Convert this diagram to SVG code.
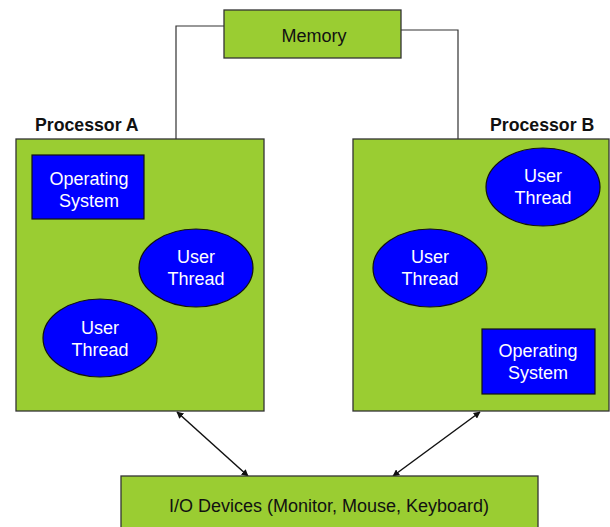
<svg xmlns="http://www.w3.org/2000/svg" width="610" height="527" viewBox="0 0 610 527">
<style>
.box{fill:#9acd32;stroke:#333;stroke-width:1.3}
.blue{fill:#0000ff;stroke:#111;stroke-width:1.2}
.wt{font-family:"Liberation Sans",Arial,sans-serif;font-size:18px;fill:#fff;text-anchor:middle}
.bt{font-family:"Liberation Sans",Arial,sans-serif;font-size:18px;fill:#111;text-anchor:middle}
.lbl{font-family:"Liberation Sans",Arial,sans-serif;font-size:17.7px;font-weight:bold;fill:#111}
.wire{fill:none;stroke:#333;stroke-width:1.2}
.arr{stroke:#111;stroke-width:1.5;marker-start:url(#ah);marker-end:url(#ah)}
</style>
<defs>
<marker id="ah" viewBox="0 0 10 10" refX="9" refY="5" markerWidth="7" markerHeight="7" orient="auto-start-reverse" markerUnits="userSpaceOnUse"><path d="M0,0 L10,5 L0,10 z" fill="#111"/></marker>
</defs>
<rect width="610" height="527" fill="#fff"/>
<g id="connectors">
<polyline class="wire" points="224,26 176,26 176,139"/>
<polyline class="wire" points="401,30 458,30 458,139"/>
<line class="arr" x1="177" y1="412" x2="248" y2="476"/>
<line class="arr" x1="480" y1="412" x2="393" y2="476"/>
</g>
<g id="memory">
<rect class="box" x="224" y="10" width="177" height="48"/>
<text class="bt" x="314" y="42">Memory</text>
</g>
<g id="processorA">
<text class="lbl" x="35" y="131">Processor A</text>
<rect class="box" x="16" y="139" width="248" height="272"/>
</g>
<g id="osA">
<rect class="blue" x="32" y="155" width="112" height="64"/>
<text class="wt" x="89" y="185">Operating</text>
<text class="wt" x="89" y="207">System</text>
</g>
<g id="threadA1">
<ellipse class="blue" cx="196" cy="268" rx="57" ry="39"/>
<text class="wt" x="196" y="263">User</text>
<text class="wt" x="196" y="285">Thread</text>
</g>
<g id="threadA2">
<ellipse class="blue" cx="100" cy="338" rx="57" ry="39"/>
<text class="wt" x="100" y="334">User</text>
<text class="wt" x="100" y="356">Thread</text>
</g>
<g id="processorB">
<text class="lbl" x="490" y="131">Processor B</text>
<rect class="box" x="353" y="139" width="256" height="272"/>
</g>
<g id="threadB1">
<ellipse class="blue" cx="543" cy="187" rx="57" ry="39"/>
<text class="wt" x="543" y="182">User</text>
<text class="wt" x="543" y="204">Thread</text>
</g>
<g id="threadB2">
<ellipse class="blue" cx="430" cy="268" rx="57" ry="39"/>
<text class="wt" x="430" y="263">User</text>
<text class="wt" x="430" y="285">Thread</text>
</g>
<g id="osB">
<rect class="blue" x="482" y="329" width="113" height="65"/>
<text class="wt" x="538" y="357">Operating</text>
<text class="wt" x="538" y="379">System</text>
</g>
<g id="io">
<rect class="box" x="121" y="476" width="417" height="60"/>
<text class="bt" x="329" y="512">I/O Devices (Monitor, Mouse, Keyboard)</text>
</g>
</svg>
